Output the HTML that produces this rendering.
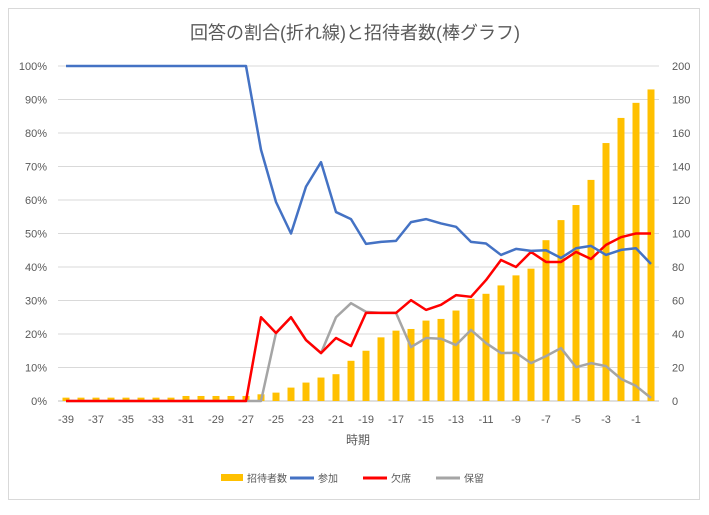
<!DOCTYPE html>
<html><head><meta charset="utf-8"><style>
body{margin:0;background:#fff;font-family:"Liberation Sans","Noto Sans CJK JP",sans-serif;}
svg text{font-family:"Liberation Sans","Noto Sans CJK JP",sans-serif;fill:#595959;}
</style></head><body>
<svg id="chart" width="709" height="510" xmlns="http://www.w3.org/2000/svg">
<rect x="8.5" y="8.5" width="691" height="491" fill="#fff" stroke="#d9d9d9"/>
<text x="355" y="39" font-size="18" text-anchor="middle">回答の割合(折れ線)と招待者数(棒グラフ)</text>
<g id="grid"></g><g id="bars"></g><g id="lines"></g><g id="axes"></g>
<text x="358" y="444" font-size="12" text-anchor="middle">時期</text>
<g>
<rect x="221" y="474" width="22" height="7" fill="#ffc000"/>
<text x="247" y="482" font-size="10">招待者数</text>
<line x1="290" y1="478" x2="314" y2="478" stroke="#4472c4" stroke-width="3"/>
<text x="318" y="482" font-size="10">参加</text>
<line x1="363" y1="478" x2="387" y2="478" stroke="#ff0000" stroke-width="3"/>
<text x="391" y="482" font-size="10">欠席</text>
<line x1="436" y1="478" x2="460" y2="478" stroke="#a5a5a5" stroke-width="3"/>
<text x="464" y="482" font-size="10">保留</text>
</g>
</svg>
<script>
const categories=[-39,-38,-37,-36,-35,-34,-33,-32,-31,-30,-29,-28,-27,-26,-25,-24,-23,-22,-21,-20,-19,-18,-17,-16,-15,-14,-13,-12,-11,-10,-9,-8,-7,-6,-5,-4,-3,-2,-1,0];
const invited=[2,2,2,2,2,2,2,2,3,3,3,3,3,4,5,8,11,14,16,24,30,38,42,43,48,49,54,61,64,69,75,79,96,108,117,132,154,169,178,186];
const attend=[100,100,100,100,100,100,100,100,100,100,100,100,100,75,59.4,50,64,71.3,56.4,54.3,46.9,47.5,47.8,53.4,54.3,53,52,47.5,47,43.6,45.4,44.8,45,42.7,45.6,46.3,43.6,45.1,45.6,40.9];
const absent=[0,0,0,0,0,0,0,0,0,0,0,0,0,25,20.3,25,18.2,14.3,18.8,16.4,26.3,26.3,26.3,30.1,27.2,28.7,31.6,31.1,36.1,42.1,40,44.5,41.5,41.5,44.5,42.4,46.6,48.9,50,50];
const pending=[0,0,0,0,0,0,0,0,0,0,0,0,0,0,20.3,25,18.2,14.3,25,29.2,26.6,26.3,26.3,16.1,18.8,18.6,16.7,21.2,17.3,14.3,14.4,11.3,13.4,15.8,10.1,11.3,10.4,6.6,4.5,0.9];
const leftTicks=["0%","10%","20%","30%","40%","50%","60%","70%","80%","90%","100%"];
const rightTicks=[0,20,40,60,80,100,120,140,160,180,200];
const NS="http://www.w3.org/2000/svg";
const x0=66,dx=15,yB=401,yT=66;
const xs=i=>x0+i*dx;
const yPct=v=>yB-(yB-yT)*v/100;
const yCnt=v=>yB-(yB-yT)*v/200;
function mk(t,a,p){const e=document.createElementNS(NS,t);for(const k in a)e.setAttribute(k,a[k]);p.appendChild(e);return e;}
const grid=document.getElementById('grid'),axes=document.getElementById('axes');
leftTicks.forEach((t,i)=>{const y=yPct(i*10);
 const g=mk('line',{x1:58,x2:659,y1:y,y2:y,stroke:i?'#d9d9d9':'#bfbfbf','stroke-width':1},grid);
 
 
 const l=mk('text',{x:47,y:y+4,'font-size':11,'text-anchor':'end'},axes);l.textContent=t;
 
 
});
rightTicks.forEach(t=>{const r=mk('text',{x:672,y:yCnt(t)+4,'font-size':11},axes);r.textContent=t;
 
 
});
categories.forEach((c,i)=>{if(i%2===0){const t=mk('text',{x:xs(i),y:423,'font-size':11,'text-anchor':'middle'},axes);t.textContent=c;
 
 }});
const bars=document.getElementById('bars');
invited.forEach((v,i)=>{const y=yCnt(v);const b=mk('rect',{x:xs(i)-3.5,y:y,width:7,height:yB-y,fill:'#ffc000'},bars);
 
 });
const lines=document.getElementById('lines');
[[pending,'#a5a5a5','line-pending'],[absent,'#ff0000','line-absent'],[attend,'#4472c4','line-attend']].forEach(([d,c,n])=>{
 const p=mk('polyline',{points:d.map((v,i)=>xs(i)+','+yPct(v)).join(' '),fill:'none',stroke:c,'stroke-width':2.5,'stroke-linejoin':'round'},lines);
 
 
});
</script>
</body></html>
